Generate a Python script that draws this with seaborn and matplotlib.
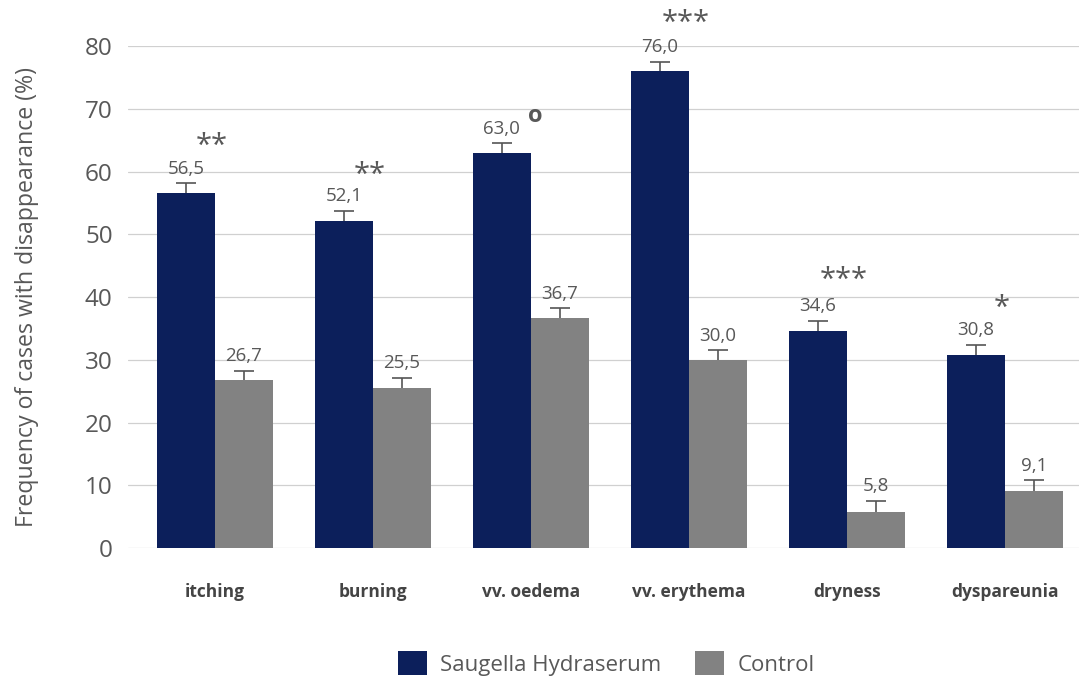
import matplotlib
matplotlib.use("Agg")
import matplotlib.pyplot as plt
import seaborn as sns
import pandas as pd
import numpy as np

# Symptom categories and percentages of cases with disappearance
categories = ["itching", "burning", "vv. oedema", "vv. erythema", "dryness", "dyspareunia"]
hydraserum = [56.5, 52.1, 63.0, 76.0, 34.6, 30.8]
control = [26.7, 25.5, 36.7, 30.0, 5.8, 9.1]
hydraserum_err = [1.6, 1.6, 1.5, 1.5, 1.6, 1.6]
control_err = [1.5, 1.6, 1.5, 1.5, 1.7, 1.7]
series_names = ["Saugella Hydraserum", "Control"]

# Significance markers and the height (in %) at which each is written
sig_marks = ["**", "**", "o", "***", "***", "*"]
sig_heights = [64.0, 59.4, 68.8, 83.6, 42.6, 38.2]

navy = "#0c1f5b"
grey = "#828282"
text_col = "#585858"

df = pd.DataFrame({
    "category": categories * 2,
    "value": hydraserum + control,
    "err": hydraserum_err + control_err,
    "series": [series_names[0]] * len(categories) + [series_names[1]] * len(categories),
})

sns.set_theme(style="white")
plt.rcParams["font.family"] = ["Open Sans", "DejaVu Sans"]

fig = plt.figure(figsize=(10.79, 6.77), dpi=100)
ax = fig.add_axes([0.1186, 0.1905, 0.8814, 0.7415])

sns.barplot(data=df, x="category", y="value", hue="series", order=categories,
            hue_order=series_names, palette=[navy, grey], width=0.734,
            saturation=1, errorbar=None, legend=True, ax=ax, zorder=3,
            linewidth=0)

# one-sided (upper) error bars and value labels
cap_half = 0.062
for cont, name in zip(ax.containers, series_names):
    sub = df[df["series"] == name].set_index("category").loc[categories]
    for bar, val, err in zip(cont, sub["value"], sub["err"]):
        xc = bar.get_x() + bar.get_width() / 2
        top = val + err
        ax.vlines(xc, val, top, color="#555555", linewidth=1.2, zorder=4)
        ax.hlines(top, xc - cap_half, xc + cap_half, color="#555555",
                  linewidth=1.2, zorder=4)
        ax.text(xc, top + 0.9, f"{val:.1f}".replace(".", ","),
                ha="center", va="bottom", fontsize=13.5, color=text_col, zorder=5)

# significance markers centred on each group
for i, (mark, h) in enumerate(zip(sig_marks, sig_heights)):
    if mark == "o":
        ax.text(i + 0.03, h, mark, ha="center", va="center", fontsize=17,
                fontweight="bold", color=text_col, clip_on=False)
    else:
        ax.text(i - 0.02, h, mark, ha="center", va="center", fontsize=21,
                color=text_col, clip_on=False)

ax.set_ylim(0, 80)
ax.set_xlim(-0.55, 5.47)
ax.set_yticks(np.arange(0, 81, 10))
ax.yaxis.grid(True, color="#d0d0d0", linewidth=0.9, zorder=0)
ax.set_axisbelow(True)
for s in ax.spines.values():
    s.set_visible(False)

ax.tick_params(axis="y", labelsize=17.5, labelcolor=text_col, length=0, pad=11)
ax.tick_params(axis="x", labelsize=12.5, labelcolor="#444444", length=0, pad=25)
for lab in ax.get_xticklabels():
    lab.set_fontweight("bold")
ax.set_xlabel("")
ax.set_ylabel("Frequency of cases with disappearance (%)", fontsize=16.7,
              color=text_col)
ax.yaxis.set_label_coords(-0.094, 0.5)

handles, labels = ax.get_legend_handles_labels()
ax.legend(handles, labels, loc="center", bbox_to_anchor=(0.503, -0.23),
          ncol=2, frameon=False, fontsize=16, labelcolor=text_col,
          handlelength=1.3, handleheight=1.3, handletextpad=0.6,
          columnspacing=1.5)

fig.savefig("out.png", dpi=100)
